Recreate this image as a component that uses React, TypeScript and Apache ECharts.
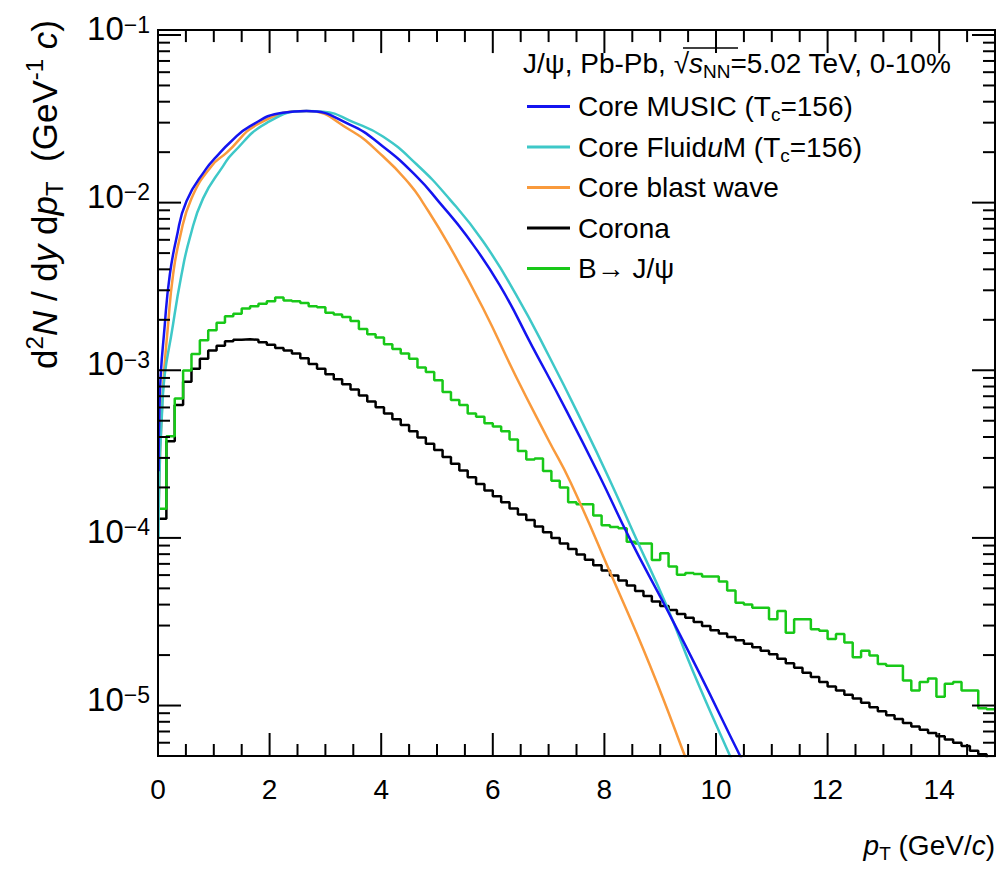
import React, { useEffect, useRef } from 'react';
import * as echarts from 'echarts';

const FONT = '"Liberation Sans", Arial, Helvetica, sans-serif';

// axis ranges
const X_MIN = 0;
const X_MAX = 15;
const Y_MIN = 5e-6;
const Y_MAX = 0.107;

// ticks
const X_MAJOR = [0, 2, 4, 6, 8, 10, 12, 14];
const X_MINOR = [0.5, 1, 1.5, 2.5, 3, 3.5, 4.5, 5, 5.5, 6.5, 7, 7.5, 8.5, 9, 9.5, 10.5, 11, 11.5, 12.5, 13, 13.5, 14.5];
const Y_MAJOR = [1e-5, 1e-4, 1e-3, 1e-2, 1e-1];
const Y_MINOR = [
  6e-6, 7e-6, 8e-6, 9e-6,
  2e-5, 3e-5, 4e-5, 5e-5, 6e-5, 7e-5, 8e-5, 9e-5,
  2e-4, 3e-4, 4e-4, 5e-4, 6e-4, 7e-4, 8e-4, 9e-4,
  2e-3, 3e-3, 4e-3, 5e-3, 6e-3, 7e-3, 8e-3, 9e-3,
  2e-2, 3e-2, 4e-2, 5e-2, 6e-2, 7e-2, 8e-2, 9e-2,
];

// Core MUSIC (Tc=156)
const MUSIC_X = [0.01, 0.032, 0.122, 0.211, 0.331, 0.51, 0.868, 1.047, 1.3, 1.644, 2.235, 2.659, 3.438, 4.025, 4.628, 5.046, 5.524, 6.118, 6.711, 7.314, 7.911, 8.448, 9.105, 9.703, 10.42, 10.6];
const MUSIC_Y = [2.5e-4, 6.98e-4, 1.88e-3, 3.71e-3, 6.14e-3, 1.02e-2, 1.6e-2, 1.88e-2, 2.3e-2, 2.85e-2, 3.44e-2, 3.52e-2, 2.92e-2, 2.17e-2, 1.44e-2, 1.0e-2, 6.38e-3, 3.24e-3, 1.38e-3, 5.79e-4, 2.35e-4, 1.0e-4, 3.83e-5, 1.56e-5, 5.1e-6, 3.9e-6];

// Core FluiduM (Tc=156)
const FLUIDUM_X = [0.01, 0.086, 0.27, 0.421, 0.569, 0.808, 1.166, 1.345, 1.943, 2.659, 2.956, 3.5, 4.031, 4.628, 5.225, 5.821, 6.419, 7.015, 7.611, 8.089, 8.568, 9.105, 9.581, 10.24, 10.4];
const FLUIDUM_Y = [1.0e-4, 6.98e-4, 1.88e-3, 3.71e-3, 6.14e-3, 1.06e-2, 1.65e-2, 1.98e-2, 2.98e-2, 3.52e-2, 3.49e-2, 3.02e-2, 2.48e-2, 1.70e-2, 1.05e-2, 5.9e-3, 2.82e-3, 1.2e-3, 4.83e-4, 2.24e-4, 9.91e-5, 4.01e-5, 1.62e-5, 5.1e-6, 3.9e-6];

// Core blast wave
const BLAST_X = [0.01, 0.081, 0.181, 0.27, 0.39, 0.6, 0.958, 1.226, 1.823, 2.659, 3.434, 4.031, 4.509, 4.747, 5.225, 5.821, 6.419, 6.997, 7.395, 8.149, 8.806, 9.432, 9.6];
const BLAST_Y = [1.5e-4, 6.98e-4, 1.88e-3, 3.71e-3, 6.14e-3, 1.06e-2, 1.65e-2, 1.98e-2, 2.98e-2, 3.52e-2, 2.72e-2, 1.89e-2, 1.29e-2, 1.0e-2, 5.5e-3, 2.36e-3, 9.12e-4, 3.84e-4, 2.14e-4, 5.75e-5, 1.77e-5, 5.1e-6, 3.5e-6];

// histograms: 100 bins of 0.15 GeV/c from 0 to 15
const BIN_WIDTH = 0.15;
const CORONA = [
  1.30e-4, 3.77e-4, 6.20e-4, 8.55e-4, 1.02e-3, 1.17e-3, 1.31e-3, 1.40e-3, 1.49e-3, 1.52e-3,
  1.53e-3, 1.52e-3, 1.47e-3, 1.42e-3, 1.36e-3, 1.31e-3, 1.26e-3, 1.18e-3, 1.09e-3, 1.02e-3,
  9.46e-4, 8.83e-4, 8.24e-4, 7.67e-4, 7.08e-4, 6.52e-4, 6.01e-4, 5.53e-4, 5.10e-4, 4.71e-4,
  4.33e-4, 3.97e-4, 3.65e-4, 3.34e-4, 3.04e-4, 2.77e-4, 2.52e-4, 2.30e-4, 2.10e-4, 1.92e-4,
  1.77e-4, 1.63e-4, 1.50e-4, 1.38e-4, 1.28e-4, 1.17e-4, 1.08e-4, 1.00e-4, 9.27e-5, 8.58e-5,
  7.96e-5, 7.40e-5, 6.87e-5, 6.40e-5, 5.97e-5, 5.57e-5, 5.20e-5, 4.83e-5, 4.50e-5, 4.18e-5,
  3.92e-5, 3.72e-5, 3.52e-5, 3.34e-5, 3.15e-5, 2.98e-5, 2.81e-5, 2.69e-5, 2.56e-5, 2.45e-5,
  2.34e-5, 2.23e-5, 2.12e-5, 2.02e-5, 1.90e-5, 1.79e-5, 1.68e-5, 1.57e-5, 1.48e-5, 1.38e-5,
  1.30e-5, 1.23e-5, 1.16e-5, 1.10e-5, 1.04e-5, 9.77e-6, 9.23e-6, 8.75e-6, 8.30e-6, 7.87e-6,
  7.50e-6, 7.18e-6, 6.86e-6, 6.56e-6, 6.27e-6, 6.00e-6, 5.73e-6, 5.37e-6, 5.13e-6, 4.79e-6,
];
const B_TO_JPSI = [
  1.49e-4, 4.04e-4, 6.79e-4, 9.97e-4, 1.25e-3, 1.51e-3, 1.73e-3, 1.92e-3, 2.10e-3, 2.17e-3,
  2.34e-3, 2.41e-3, 2.49e-3, 2.58e-3, 2.72e-3, 2.61e-3, 2.58e-3, 2.52e-3, 2.41e-3, 2.38e-3,
  2.20e-3, 2.15e-3, 2.08e-3, 1.97e-3, 1.76e-3, 1.64e-3, 1.57e-3, 1.43e-3, 1.34e-3, 1.26e-3,
  1.17e-3, 1.04e-3, 9.75e-4, 8.71e-4, 7.43e-4, 6.64e-4, 6.20e-4, 5.53e-4, 5.29e-4, 4.83e-4,
  4.62e-4, 4.32e-4, 3.86e-4, 3.30e-4, 2.94e-4, 2.98e-4, 2.51e-4, 2.19e-4, 2.00e-4, 1.63e-4,
  1.59e-4, 1.59e-4, 1.36e-4, 1.19e-4, 1.16e-4, 1.14e-4, 9.47e-5, 9.26e-5, 9.26e-5, 7.38e-5,
  8.09e-5, 6.75e-5, 6.03e-5, 6.17e-5, 6.10e-5, 5.89e-5, 5.89e-5, 5.50e-5, 4.85e-5, 4.10e-5,
  4.00e-5, 3.83e-5, 3.83e-5, 3.27e-5, 3.66e-5, 2.72e-5, 3.27e-5, 3.27e-5, 2.85e-5, 2.79e-5,
  2.49e-5, 2.67e-5, 2.38e-5, 1.94e-5, 2.12e-5, 1.99e-5, 1.77e-5, 1.73e-5, 1.73e-5, 1.41e-5,
  1.23e-5, 1.38e-5, 1.45e-5, 1.13e-5, 1.35e-5, 1.38e-5, 1.23e-5, 1.23e-5, 9.62e-6, 9.50e-6,
];

const LEGEND_NAMES = ['Core MUSIC (Tc=156)', 'Core FluiduM (Tc=156)', 'Core blast wave', 'Corona', 'B→ J/ψ'];
const LEGEND_RICH: Record<string, string> = {
  'Core MUSIC (Tc=156)': '{n|Core MUSIC (T}{sub|c}{n|=156)}',
  'Core FluiduM (Tc=156)': '{n|Core Fluid}{i|u}{n|M (T}{sub|c}{n|=156)}',
  'Core blast wave': '{n|Core blast wave}{sub|}',
  'Corona': '{n|Corona}{sub|}',
  'B→ J/ψ': '{n|B→ J/ψ}{sub|}',
};

const BLUE = '#1414f0';
const CYAN = '#3ec8c8';
const ORANGE = '#f99a3c';
const GREEN = '#18c818';
const BLACK = '#000000';

function curve(xs: number[], ys: number[]) {
  return xs.map((x, i) => [x, ys[i]]);
}
function hist(vals: number[]) {
  const d = vals.map((v, i) => [i * BIN_WIDTH, v]);
  d.push([vals.length * BIN_WIDTH, vals[vals.length - 1]]);
  return d;
}

export default function App() {
  const ref = useRef<HTMLDivElement>(null);
  useEffect(() => {
    const chart = echarts.init(ref.current!, null, { renderer: 'svg', width: 1000, height: 870 });
    const smoothCurve = (name: string, xs: number[], ys: number[], color: string) => ({
      type: 'line', name, data: curve(xs, ys), symbol: 'none', showSymbol: false,
      smooth: 0.5,
      lineStyle: { color, width: 2.5 }, itemStyle: { color }, z: 3,
    });
    const option: any = {
      animation: false,
      backgroundColor: '#ffffff',
      grid: { left: 158, top: 23, width: 837, height: 733, containLabel: false },
      xAxis: {
        type: 'value', min: X_MIN, max: X_MAX, interval: 2,
        axisLine: { show: false }, axisTick: { show: false }, splitLine: { show: false },
        axisLabel: { show: true, fontSize: 28, fontFamily: FONT, color: '#000', margin: 19, showMaxLabel: false },
      },
      yAxis: {
        type: 'log', logBase: 10, min: Y_MIN, max: Y_MAX,
        axisLine: { show: false }, axisTick: { show: false }, splitLine: { show: false }, minorTick: { show: false },
        axisLabel: {
          show: true, margin: 8, showMinLabel: false, showMaxLabel: false,
          padding: [0, 0, 12, 0],
          formatter: (v: number) => {
            const e = Math.log10(v);
            const r = Math.round(e);
            if (Math.abs(e - r) > 1e-6) return '';
            return '{b|10}{s|−' + Math.abs(r) + '}';
          },
          rich: {
            b: { fontSize: 33, lineHeight: 32, fontFamily: FONT, color: '#000', padding: [12, 0, 0, 0], verticalAlign: 'bottom' },
            s: { fontSize: 23, lineHeight: 22, fontFamily: FONT, color: '#000', verticalAlign: 'top' },
          },
        },
      },
      legend: {
        data: LEGEND_NAMES,
        orient: 'vertical', left: 527, top: 88, padding: 0,
        icon: 'rect', itemWidth: 43, itemHeight: 3, itemGap: 4.5,
        selectedMode: false,
        formatter: (name: string) => LEGEND_RICH[name] || name,
        textStyle: {
          fontSize: 28, fontFamily: FONT, color: '#000', lineHeight: 35, height: 35,
          padding: [0, 0, 0, 3],
          rich: {
            n: { fontSize: 28, lineHeight: 35, fontFamily: FONT, color: '#000' },
            i: { fontSize: 28, lineHeight: 35, fontFamily: FONT, color: '#000', fontStyle: 'italic' },
            sub: { fontSize: 19, lineHeight: 18, fontFamily: FONT, color: '#000', verticalAlign: 'bottom', padding: [17, 0, 0, 0] },
          },
        },
      },
      series: [
        {
          type: 'line', name: 'Corona', step: 'end', data: hist(CORONA), symbol: 'none', showSymbol: false,
          lineStyle: { color: BLACK, width: 2.5 }, itemStyle: { color: BLACK }, z: 2,
        },
        {
          type: 'line', name: 'B→ J/ψ', step: 'end', data: hist(B_TO_JPSI), symbol: 'none', showSymbol: false,
          lineStyle: { color: GREEN, width: 2.5 }, itemStyle: { color: GREEN }, z: 2,
        },
        smoothCurve('Core blast wave', BLAST_X, BLAST_Y, ORANGE),
        smoothCurve('Core FluiduM (Tc=156)', FLUIDUM_X, FLUIDUM_Y, CYAN),
        smoothCurve('Core MUSIC (Tc=156)', MUSIC_X, MUSIC_Y, BLUE),
      ],
    };
    chart.setOption(option);

    const px = (v: number) => chart.convertToPixel({ xAxisIndex: 0 }, v) as number;
    const py = (v: number) => chart.convertToPixel({ yAxisIndex: 0 }, v) as number;
    const X0 = px(X_MIN), X1 = px(X_MAX), YB = py(Y_MIN), YT = py(Y_MAX);
    const g: any[] = [];
    const tickStyle = { stroke: '#000', lineWidth: 2 };
    const MAJ = 23, MIN = 12;
    g.push({ type: 'rect', z: 100, silent: true, shape: { x: X0, y: YT, width: X1 - X0, height: YB - YT }, style: { fill: 'none', stroke: '#000', lineWidth: 2 } });
    X_MAJOR.forEach((v) => {
      const x = px(v);
      g.push({ type: 'line', z: 100, silent: true, shape: { x1: x, y1: YB, x2: x, y2: YB - MAJ }, style: tickStyle });
      g.push({ type: 'line', z: 100, silent: true, shape: { x1: x, y1: YT, x2: x, y2: YT + MAJ }, style: tickStyle });
    });
    X_MINOR.forEach((v) => {
      const x = px(v);
      g.push({ type: 'line', z: 100, silent: true, shape: { x1: x, y1: YB, x2: x, y2: YB - MIN }, style: tickStyle });
      g.push({ type: 'line', z: 100, silent: true, shape: { x1: x, y1: YT, x2: x, y2: YT + MIN }, style: tickStyle });
    });
    Y_MAJOR.forEach((v) => {
      const y = py(v);
      g.push({ type: 'line', z: 100, silent: true, shape: { x1: X0, y1: y, x2: X0 + MAJ, y2: y }, style: tickStyle });
      g.push({ type: 'line', z: 100, silent: true, shape: { x1: X1, y1: y, x2: X1 - MAJ, y2: y }, style: tickStyle });
    });
    Y_MINOR.forEach((v) => {
      const y = py(v);
      g.push({ type: 'line', z: 100, silent: true, shape: { x1: X0, y1: y, x2: X0 + MIN, y2: y }, style: tickStyle });
      g.push({ type: 'line', z: 100, silent: true, shape: { x1: X1, y1: y, x2: X1 - MIN, y2: y }, style: tickStyle });
    });

    // legend header
    g.push({
      type: 'text', x: 523, y: 63, z: 100, silent: true,
      style: {
        text: '{n|J/ψ, Pb-Pb, √}{i|s}{sub|NN}{n|=5.02 TeV, 0-10%}',
        align: 'left', verticalAlign: 'middle', fill: '#000',
        rich: {
          n: { fontSize: 28, lineHeight: 35, fontFamily: FONT, fill: '#000' },
          i: { fontSize: 28, lineHeight: 35, fontFamily: FONT, fill: '#000', fontStyle: 'italic' },
          sub: { fontSize: 19, lineHeight: 18, fontFamily: FONT, fill: '#000', verticalAlign: 'bottom', padding: [17, 0, 0, 0] },
        },
      },
    });
    g.push({ type: 'line', z: 100, silent: true, shape: { x1: 683, y1: 48, x2: 738, y2: 48 }, style: { stroke: '#000', lineWidth: 1.5 } });

    // x title
    g.push({
      type: 'text', x: 995, y: 845, z: 100, silent: true,
      style: {
        text: '{i|p}{sub|T}{n| (GeV/}{i|c}{n|)}',
        align: 'right', verticalAlign: 'middle', fill: '#000',
        rich: {
          n: { fontSize: 28, lineHeight: 36, fontFamily: FONT, fill: '#000' },
          i: { fontSize: 28, lineHeight: 36, fontFamily: FONT, fill: '#000', fontStyle: 'italic' },
          sub: { fontSize: 19, lineHeight: 19, fontFamily: FONT, fill: '#000', verticalAlign: 'bottom', padding: [17, 0, 0, 0] },
        },
      },
    });
    // y title
    g.push({
      type: 'text', x: 44, y: 20, rotation: Math.PI / 2, z: 100, silent: true,
      style: {
        text: '{n|d}{sup|2}{i|N}{n| / d}{i|y}{n| d}{i|p}{sub|T}{n|  (GeV}{sup|-1}{n| }{i|c}{n|)}',
        align: 'right', verticalAlign: 'middle', fill: '#000',
        rich: {
          n: { fontSize: 35, lineHeight: 44, fontFamily: FONT, fill: '#000' },
          i: { fontSize: 35, lineHeight: 44, fontFamily: FONT, fill: '#000', fontStyle: 'italic' },
          sub: { fontSize: 24, lineHeight: 24, fontFamily: FONT, fill: '#000', verticalAlign: 'bottom', padding: [20, 0, 0, 0] },
          sup: { fontSize: 24, lineHeight: 24, fontFamily: FONT, fill: '#000', verticalAlign: 'top', padding: [0, 0, 20, 0] },
        },
      },
    });

    chart.setOption({ graphic: g });
    return () => chart.dispose();
  }, []);
  return <div ref={ref} style={{ position: 'absolute', left: 0, top: 0, width: 1000, height: 870 }} />;
}
